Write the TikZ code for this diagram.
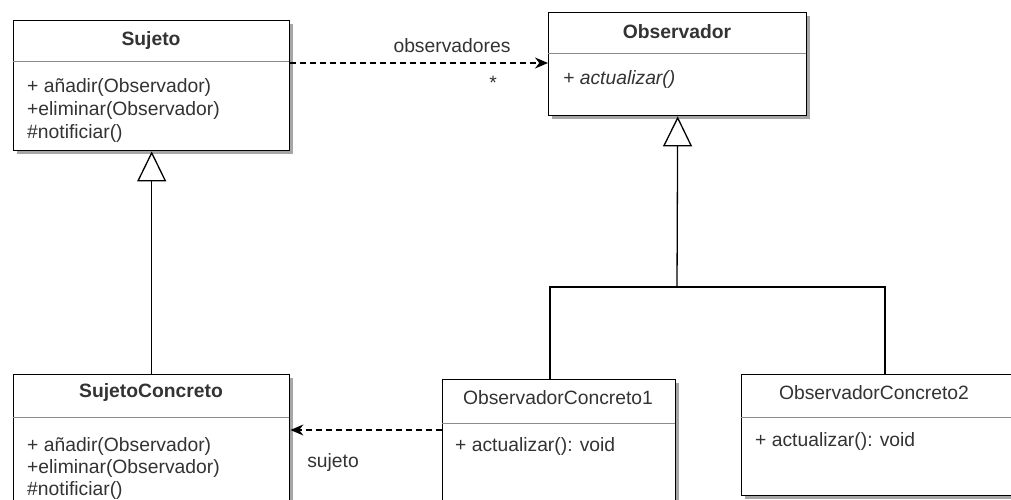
\documentclass[tikz,border=0pt]{standalone}
\usepackage{fontspec}
\setmainfont{Liberation Sans}
\usetikzlibrary{arrows.meta,shadows,calc}

\tikzset{
  classbox/.style={draw=black, line width=1.4pt, fill=white, rectangle,
    inner sep=0pt, anchor=north west,
    drop shadow={shadow xshift=3pt, shadow yshift=-3pt, fill=black!35, opacity=1}},
  sepline/.style={draw=black!45, line width=1pt},
  title/.style={font=\fontsize{19.3}{23}\selectfont\bfseries, text=black!80, inner sep=0pt},
  titleplain/.style={font=\fontsize{19.3}{23}\selectfont, text=black!80, inner sep=0pt},
  member/.style={font=\fontsize{19.3}{23}\selectfont, text=black!80, inner sep=0pt, anchor=west},
  lbl/.style={font=\fontsize{19.3}{23}\selectfont, text=black!80, inner sep=0pt},
  depend/.style={draw=black, line width=1.3pt, dash pattern=on 6pt off 4pt,
    -{Stealth[length=13pt, width=11pt]}},
  inherit/.style={draw=black, line width=1.3pt,
    -{Triangle[open, length=30pt, width=29pt, line width=1.3pt, fill=white]}},
  link/.style={draw=black, line width=1.3pt}
}

\begin{document}
\begin{tikzpicture}[x=1pt, y=-1pt]
\useasboundingbox (0,0) rectangle (1011,500);

% Class boxes
\node[classbox, minimum width=276pt, minimum height=130pt] (sujeto) at (13,20) {};
\node[classbox, minimum width=258pt, minimum height=103pt] (observador) at (548,12) {};
\node[classbox, minimum width=276pt, minimum height=140pt] (sujetoc) at (13,374) {};
\node[classbox, minimum width=233pt, minimum height=121pt] (obsc1) at (442,379) {};
\node[classbox, minimum width=290pt, minimum height=121pt] (obsc2) at (741,374) {};
\clip (0,0) rectangle (1011,500);

% Compartment separators
\draw[sepline] (13,62) -- (289,62);
\draw[sepline] (548,54) -- (806,54);
\draw[sepline] (13,417) -- (289,417);
\draw[sepline] (442,423) -- (675,423);
\draw[sepline] (741,417) -- (1011,417);

% Titles
\node[title] (t-sujeto) at (151,41) {Sujeto};
\node[title] (t-observador) at (677,32) {Observador};
\node[title] (t-sujetoc) at (151,393) {SujetoConcreto};
\node[titleplain] (t-obsc1) at (558,398) {ObservadorConcreto1};
\node[titleplain] (t-obsc2) at (874,393) {ObservadorConcreto2};

% Members
\node[member] (m-s1) at (27,88) {+ añadir(Observador)};
\node[member] (m-s2) at (27,111) {+eliminar(Observador)};
\node[member] (m-s3) at (27,134) {\#notificiar()};
\node[member] (m-o1) at (563,80) {\itshape + actualizar()};
\node[member] (m-sc1) at (27,446) {+ añadir(Observador)};
\node[member] (m-sc2) at (27,468) {+eliminar(Observador)};
\node[member] (m-sc3) at (27,490) {\#notificiar()};
\node[member] (m-oc1) at (455,447) {+ actualizar(): void};
\node[member] (m-oc2) at (755,442) {+ actualizar(): void};

% Association Sujeto -> Observador
\draw[depend] ([yshift=-43pt]sujeto.north east) -- ([yshift=-51pt]observador.north west);
\node[lbl] (l-obs) at (452,46) {observadores};
\node[lbl] (l-star) at (493,83) {*};

% Association ObservadorConcreto1 -> SujetoConcreto
\draw[depend] ([yshift=-51pt]obsc1.north west) -- ([yshift=-56pt]sujetoc.north east);
\node[lbl] (l-suj) at (333,463) {sujeto};

% Generalisation SujetoConcreto -> Sujeto
\draw[inherit] (sujetoc.north) -- (sujeto.south);

% Generalisation of the concrete observers
\coordinate (junction) at (677,287);
\coordinate (up1) at (550,379);
\coordinate (up2) at (885,374);
\draw[link] (up1) |- (junction);
\draw[link] (up2) |- (junction);
\draw[inherit] (junction) -- (observador.south);
\end{tikzpicture}
\end{document}
